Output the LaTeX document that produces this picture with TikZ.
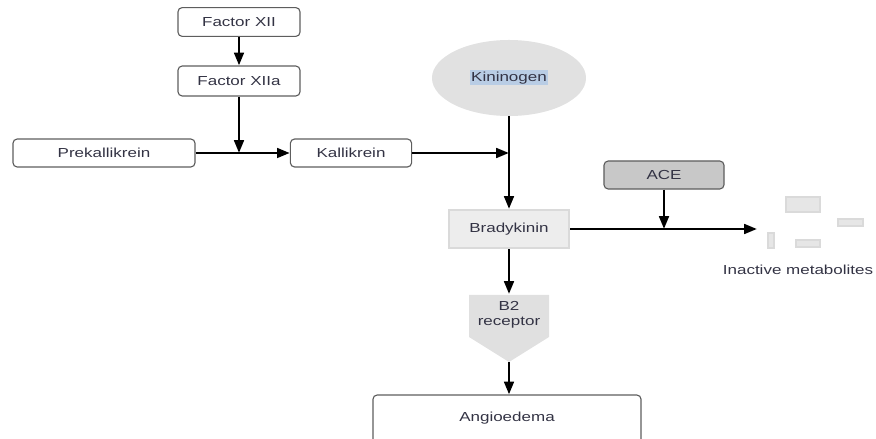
\documentclass[tikz,border=0pt]{standalone}
\usepackage{fontspec}
\setmainfont{Liberation Sans}
\newfontfamily\lblfont[FakeStretch=1.3]{Liberation Sans}
\usetikzlibrary{arrows.meta,shapes.geometric}
\definecolor{cink}{HTML}{333344}
\definecolor{cedge}{HTML}{5E5E5E}
\definecolor{cfill}{HTML}{E6E6E6}
\definecolor{cace}{HTML}{C8C8C8}
\definecolor{cpale}{HTML}{DADADA}
\definecolor{chilite}{HTML}{B9CDE5}

\begin{document}
\begin{tikzpicture}[x=0.025cm, y=-0.025cm,
  font=\lblfont\fontsize{9.3}{11}\selectfont, text=cink,
  rbox/.style={draw=cedge, line width=0.8pt, rounded corners=3pt, fill=white,
    minimum width=3.05cm, minimum height=0.72cm, inner sep=0pt},
  arr/.style={line width=1.9pt, -{Triangle[length=3.2mm,width=2.4mm]}},
  metbox/.style={draw=cpale, fill=cfill, line width=1pt}]
  \useasboundingbox (0,0) rectangle (876,439);
  % clotting side
  \node[rbox] (f12) at (239,22) {Factor XII};
  \node[rbox, minimum height=0.75cm] (f12a) at (239,81) {Factor XIIa};
  \node[rbox, minimum width=4.55cm, minimum height=0.7cm] (prek) at (104,153) {Prekallikrein};
  \node[rbox, minimum width=3.03cm, minimum height=0.7cm] (kall) at (351,153) {Kallikrein};
  % kinin side
  \node[ellipse, fill=cpale!80, minimum width=3.85cm, minimum height=1.9cm, inner sep=0pt]
    (kin) at (509,78) {\fboxsep=1pt\colorbox{chilite}{Kininogen}};
  \node[draw=cpale, line width=1.5pt, fill=cfill!70, minimum width=3cm, minimum height=0.95cm]
    (brady) at (509,229) {Bradykinin};
  \node[rbox, fill=cace, minimum width=3cm, minimum height=0.7cm] (ace) at (664,175) {ACE};
  % B2 receptor
  \fill[cpale!85] (469,295) -- (549,295) -- (549,337) -- (509,362) -- (469,337) -- cycle;
  \coordinate (b2top) at (509,294);
  \coordinate (b2tip) at (509,362);
  \node[align=center, font=\lblfont\fontsize{9.3}{10.5}\selectfont] (b2) at (509,315) {B2\\receptor};
  \node[rbox, minimum width=6.7cm, minimum height=1.3cm] (angio) at (507,421) {};
  \node (angiotxt) at (507,418) {Angioedema};
  % inactive metabolites
  \draw[metbox] (786,197) rectangle (820,212);
  \draw[metbox] (838,219) rectangle (863,226);
  \draw[metbox] (768,233) rectangle (774,248);
  \draw[metbox] (796,240) rectangle (820,247);
  \coordinate (metin) at (757,229);
  \node (metab) at (798,270) {Inactive metabolites};
  % connectors
  \draw[arr] (f12) -- (f12a);
  \draw[arr] (f12a) -- (f12a |- prek.east);
  \draw[arr] (prek) -- (kall);
  \draw[arr] (kall) -- (kall -| kin.south);
  \draw[arr] (kin) -- (brady);
  \draw[arr] (brady.east) -- (metin);
  \draw[arr] (ace) -- (ace |- brady.east);
  \draw[arr] (brady) -- (b2top);
  \draw[arr] (b2tip) -- (b2tip |- angio.north);
\end{tikzpicture}
\end{document}
